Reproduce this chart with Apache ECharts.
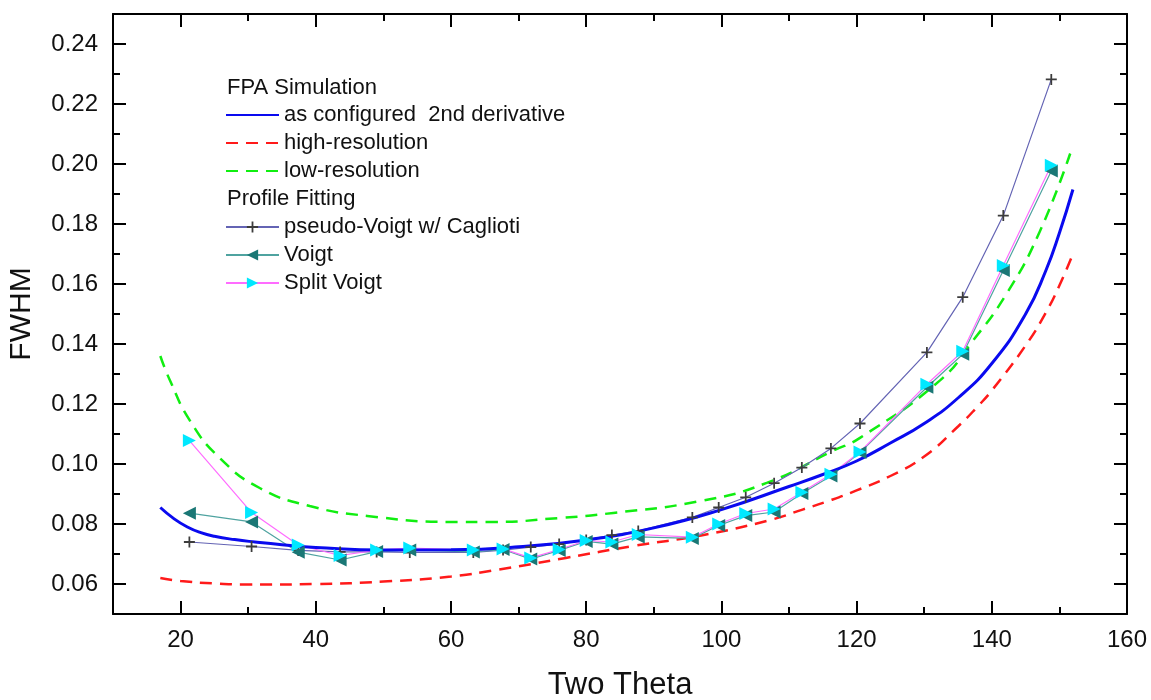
<!DOCTYPE html>
<html>
<head>
<meta charset="utf-8">
<script src="https://cdn.jsdelivr.net/npm/echarts@6/dist/echarts.min.js"></script>
<style>
html,body{margin:0;padding:0;background:#fff;}
#chart{width:1151px;height:700px;}
</style>
</head>
<body>
<div id="chart"></div>
<script>
// ---- data ----
const xMajorTicks = [20, 40, 60, 80, 100, 120, 140, 160];
const yMajorTicks = [0.06, 0.08, 0.10, 0.12, 0.14, 0.16, 0.18, 0.20, 0.22, 0.24];

const blueX = [17, 19, 21, 23, 25, 28, 31, 35, 40, 50, 60, 70, 80, 90, 100, 110, 115, 120, 125, 130, 135, 140, 145, 148, 150, 152];
const blueY = [0.0855, 0.0818, 0.0790, 0.0771, 0.0759, 0.0748, 0.0740, 0.0731, 0.0722, 0.0713, 0.0714, 0.0724, 0.0747, 0.0787, 0.0848, 0.0925, 0.0965, 0.1010, 0.1070, 0.1135, 0.1220, 0.1335, 0.1500, 0.1645, 0.1770, 0.1915];

const redX = [17, 20, 25, 30, 40, 50, 60, 67, 77, 87, 97, 107, 112, 116, 120, 125, 130, 135, 138, 140, 145, 148, 150, 152];
const redY = [0.0620, 0.0610, 0.0602, 0.0598, 0.0600, 0.0608, 0.0625, 0.0648, 0.0687, 0.0727, 0.0762, 0.0812, 0.0848, 0.0878, 0.0912, 0.0960, 0.1025, 0.1125, 0.1194, 0.1245, 0.1395, 0.1505, 0.1595, 0.1700];

const greenX = [17, 18.4, 21.4, 25.8, 31.7, 39.1, 47.6, 60, 66, 76, 84, 97, 106.7, 116.5, 120.5, 132.3, 137, 142.2, 147, 151.6];
const greenY = [0.136, 0.128, 0.1144, 0.102, 0.092, 0.086, 0.0827, 0.0807, 0.0807, 0.082, 0.0837, 0.0877, 0.0937, 0.1044, 0.1087, 0.1278, 0.1405, 0.1568, 0.1770, 0.2035];

const peakX = [21.3, 30.5, 37.4, 43.6, 49.0, 53.9, 63.3, 67.7, 71.8, 76.0, 80.0, 83.8, 87.7, 95.7, 99.6, 103.6, 107.8, 111.9, 116.2, 120.5, 130.4, 135.7, 141.7, 148.8];
const pvY    = [0.0740, 0.0725, 0.0712, 0.0707, 0.0707, 0.0705, 0.0705, 0.0713, 0.0723, 0.0733, 0.0747, 0.0763, 0.0777, 0.0822, 0.0855, 0.0889, 0.0936, 0.0988, 0.1052, 0.1135, 0.1372, 0.1556, 0.1828, 0.2282];
const voigtY = [0.0836, 0.0807, 0.0706, 0.0680, 0.0708, 0.0713, 0.0707, 0.0715, 0.0683, 0.0712, 0.0742, 0.0733, 0.0757, 0.0752, 0.0795, 0.0828, 0.0840, 0.0902, 0.0960, 0.1038, 0.1256, 0.1366, 0.1645, 0.1977];
const splitY = [0.1078, 0.0838, 0.0730, 0.0695, 0.0713, 0.0720, 0.0713, 0.0717, 0.0687, 0.0715, 0.0745, 0.0740, 0.0765, 0.0756, 0.0800, 0.0835, 0.0850, 0.0906, 0.0966, 0.1040, 0.1266, 0.1376, 0.1662, 0.1996];

const names = {
  blue: 'as configured  2nd derivative',
  red: 'high-resolution',
  green: 'low-resolution',
  pv: 'pseudo-Voigt w/ Caglioti',
  voigt: 'Voigt',
  split: 'Split Voigt'
};

function zip(xs, ys) { return xs.map((x, i) => [x, ys[i]]); }

// ---- chart ----
const FONT = '"Liberation Sans", Arial, sans-serif';
const chart = echarts.init(document.getElementById('chart'), null, { renderer: 'canvas' });
const plusPath = 'path://M4.2,0 H5.8 V4.2 H10 V5.8 H5.8 V10 H4.2 V5.8 H0 V4.2 H4.2 Z';

const axisLineStyle = { color: '#000', width: 2 };
function xAx(pos, major, withLabels) {
  const a = {
    type: 'value', position: pos, min: 10, max: 160, gridIndex: 0,
    splitLine: { show: false },
    axisLine: { show: major, onZero: false, lineStyle: axisLineStyle },
    axisTick: { show: true, inside: true, length: major ? 13 : 7, lineStyle: { color: '#000', width: 2 } },
    axisLabel: { show: false }
  };
  if (major) {
    a.axisTick.customValues = xMajorTicks;
    a.axisLabel = { show: withLabels, customValues: xMajorTicks, fontSize: 24, color: '#111', fontFamily: FONT, margin: 14 };
  } else {
    a.interval = 10;
  }
  return a;
}
function yAx(pos, major, withLabels) {
  const a = {
    type: 'value', position: pos, min: 0.05, max: 0.25, gridIndex: 0,
    splitLine: { show: false },
    axisLine: { show: major, onZero: false, lineStyle: axisLineStyle },
    axisTick: { show: true, inside: true, length: major ? 13 : 7, lineStyle: { color: '#000', width: 2 } },
    axisLabel: { show: false }
  };
  if (major) {
    a.axisTick.customValues = yMajorTicks;
    a.axisLabel = { show: withLabels, customValues: yMajorTicks, fontSize: 24, color: '#111', fontFamily: FONT, margin: 15,
      formatter: v => Number(v).toFixed(2) };
  } else {
    a.interval = 0.01;
  }
  return a;
}

const xAxes = [xAx('bottom', true, true), xAx('bottom', false), xAx('top', true, false), xAx('top', false)];
xAxes[0].name = 'Two Theta';
xAxes[0].nameLocation = 'middle';
xAxes[0].nameGap = 56;
xAxes[0].nameTextStyle = { fontSize: 31, color: '#111', fontFamily: FONT };
const yAxes = [yAx('left', true, true), yAx('left', false), yAx('right', true, false), yAx('right', false)];
yAxes[0].name = 'FWHM';
yAxes[0].nameLocation = 'middle';
yAxes[0].nameGap = 76;
yAxes[0].nameTextStyle = { fontSize: 30, color: '#111', fontFamily: FONT };

const legendText = { fontSize: 22, color: '#111', fontFamily: FONT, lineHeight: 22 };
const noSym = { opacity: 0 };

chart.setOption({
  animation: false,
  backgroundColor: '#fff',
  grid: { left: 113, right: 24, top: 14, bottom: 86, containLabel: false, outerBoundsMode: 'none' },
  xAxis: xAxes,
  yAxis: yAxes,
  legend: [
    { orient: 'vertical', left: 225, top: 104, padding: 0, itemWidth: 53, itemHeight: 14, itemGap: 6,
      data: [
        { name: names.blue, itemStyle: noSym },
        { name: names.red, itemStyle: noSym },
        { name: names.green, itemStyle: noSym }
      ], textStyle: legendText, selectedMode: false },
    { orient: 'vertical', left: 225, top: 216, padding: 0, itemWidth: 53, itemHeight: 14, itemGap: 6,
      data: [names.pv, names.voigt, names.split], textStyle: legendText, selectedMode: false }
  ],
  graphic: [
    { type: 'text', left: 227, top: 77, style: { text: 'FPA Simulation', fontSize: 22, fill: '#111', fontFamily: FONT } },
    { type: 'text', left: 227, top: 188, style: { text: 'Profile Fitting', fontSize: 22, fill: '#111', fontFamily: FONT } }
  ],
  series: [
    { name: names.red, type: 'line', data: zip(redX, redY), smooth: true, showSymbol: false, symbol: 'none',
      lineStyle: { color: '#ff1a1a', width: 2.5, type: [12, 8] }, itemStyle: { color: '#ff1a1a' } },
    { name: names.green, type: 'line', data: zip(greenX, greenY), smooth: true, showSymbol: false, symbol: 'none',
      lineStyle: { color: '#11ee11', width: 2.5, type: [12, 8] }, itemStyle: { color: '#11ee11' } },
    { name: names.pv, type: 'line', data: zip(peakX, pvY), symbol: plusPath, symbolSize: 11,
      lineStyle: { color: '#6464b4', width: 1.2 }, itemStyle: { color: '#3c3c3c' } },
    { name: names.voigt, type: 'line', data: zip(peakX, voigtY), symbol: 'triangle', symbolSize: 13, symbolRotate: 90,
      lineStyle: { color: '#4fa3a0', width: 1.2 }, itemStyle: { color: '#1a7775' } },
    { name: names.split, type: 'line', data: zip(peakX, splitY), symbol: 'triangle', symbolSize: 13, symbolRotate: -90,
      lineStyle: { color: '#ff6cff', width: 1.2 }, itemStyle: { color: '#00e8ff' } },
    { name: names.blue, type: 'line', data: zip(blueX, blueY), smooth: true, showSymbol: false, symbol: 'none',
      lineStyle: { color: '#0a0aef', width: 3 }, itemStyle: { color: '#0a0aef' } }
  ]
});
</script>
</body>
</html>
